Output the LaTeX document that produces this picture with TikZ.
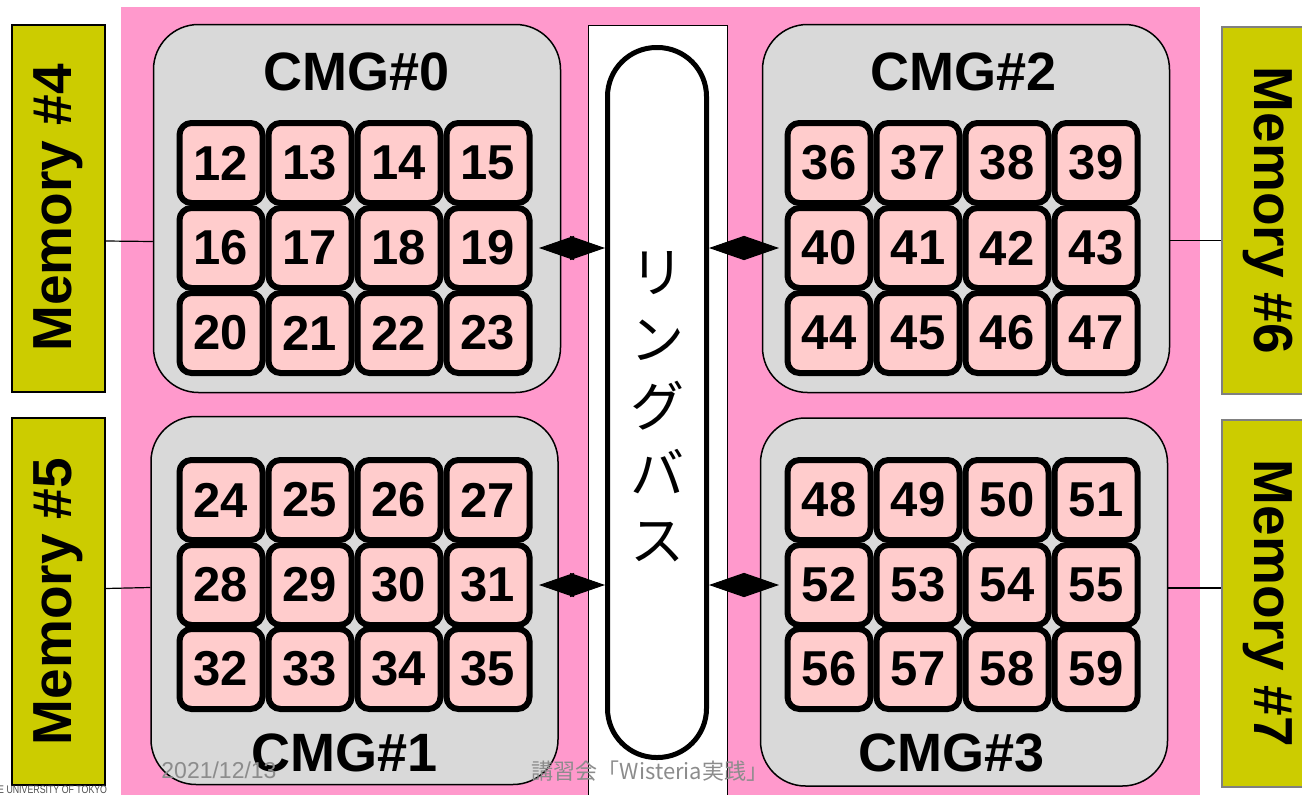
\documentclass[tikz,border=0pt]{standalone}
\usepackage{fontspec}
\setsansfont{Liberation Sans}
\newfontfamily\jpfont{Noto Sans CJK JP}
\usetikzlibrary{arrows.meta}
\usetikzlibrary{shapes}

\definecolor{boardPink}{HTML}{FF99CC}
\definecolor{cmgGray}{HTML}{D9D9D9}
\definecolor{corePink}{HTML}{FFCCCC}
\definecolor{memYellow}{HTML}{CCCC00}
\definecolor{footGray}{HTML}{8C8C8C}

\begin{document}
\begin{tikzpicture}[x = 1pt, y = -1pt, font=\sffamily]
	\tikzstyle{coreStyle}=[shape = rectangle, rounded corners = 12pt, minimum width = 83pt, minimum height = 80pt, inner sep = 0pt, line width = 6pt, draw, fill = corePink, font = \sffamily\bfseries\fontsize{49}{49}\selectfont]
	\tikzstyle{cmgStyle}=[shape = rectangle, rounded corners = 45pt, minimum width = 407pt, minimum height = 368pt, line width = 1.5pt, draw, fill = cmgGray]
	\tikzstyle{cmgLabelStyle}=[inner sep = 0pt, font = \sffamily\bfseries\fontsize{54}{54}\selectfont]
	\tikzstyle{memoryStyle}=[shape = rectangle, minimum width = 367pt, minimum height = 93pt, inner sep = 0pt, line width = 2pt, draw, fill = memYellow, font = \sffamily\bfseries\fontsize{55}{55}\selectfont]
	\tikzstyle{busStyle}=[shape = rectangle, rounded corners = 49pt, minimum width = 99pt, minimum height = 710pt, line width = 5pt, draw, fill = white]
	\tikzstyle{linkStyle}=[{Triangle[length = 35pt, width = 24pt]}-{Triangle[length = 35pt, width = 24pt]}, line width = 1pt]
	\tikzstyle{wireStyle}=[line width = 1.2pt]
	\tikzstyle{footStyle}=[inner sep = 0pt, text = footGray, font = \sffamily\fontsize{23}{23}\selectfont]
	\useasboundingbox (0,0) rectangle (1302,795);
	% board and ring bus frame
	\fill[boardPink] (121,7) rectangle (1200,800);
	\draw[fill = white, line width = 1pt] (588,25) rectangle (727,800);
	% memories
	\node[memoryStyle, rotate = 90] (mem4) at (58,208) {Memory \#4};
	\node[memoryStyle, rotate = 90] (mem5) at (58,601.5) {Memory \#5};
	\node[memoryStyle, rotate = -90, draw = gray] (mem6) at (1268,210.5) {Memory \#6};
	\node[memoryStyle, rotate = -90, draw = gray] (mem7) at (1268,603.5) {Memory \#7};
	% CMGs
	\node[cmgStyle] (cmg0) at (357,208.5) {};
	\node[cmgStyle] (cmg1) at (354.5,600.5) {};
	\node[cmgStyle] (cmg2) at (966,208.5) {};
	\node[cmgStyle] (cmg3) at (964,602) {};
	\node[cmgLabelStyle] (lab0) at (357,72) {CMG\#0};
	\node[cmgLabelStyle] (lab1) at (345,753) {CMG\#1};
	\node[cmgLabelStyle] (lab2) at (964,72) {CMG\#2};
	\node[cmgLabelStyle] (lab3) at (952,753) {CMG\#3};
	% CMG#0
	\node[coreStyle] (c12) at (221,163) {12};
	\node[coreStyle] (c13) at (310,163) {13};
	\node[coreStyle] (c14) at (399,163) {14};
	\node[coreStyle] (c15) at (488,163) {15};
	\node[coreStyle] (c16) at (221,248) {16};
	\node[coreStyle] (c17) at (310,248) {17};
	\node[coreStyle] (c18) at (399,248) {18};
	\node[coreStyle] (c19) at (488,248) {19};
	\node[coreStyle] (c20) at (221,333) {20};
	\node[coreStyle] (c21) at (310,333) {21};
	\node[coreStyle] (c22) at (399,333) {22};
	\node[coreStyle] (c23) at (488,333) {23};
	% CMG#1
	\node[coreStyle] (c24) at (221,500) {24};
	\node[coreStyle] (c25) at (310,500) {25};
	\node[coreStyle] (c26) at (399,500) {26};
	\node[coreStyle] (c27) at (488,500) {27};
	\node[coreStyle] (c28) at (221,585) {28};
	\node[coreStyle] (c29) at (310,585) {29};
	\node[coreStyle] (c30) at (399,585) {30};
	\node[coreStyle] (c31) at (488,585) {31};
	\node[coreStyle] (c32) at (221,669) {32};
	\node[coreStyle] (c33) at (310,669) {33};
	\node[coreStyle] (c34) at (399,669) {34};
	\node[coreStyle] (c35) at (488,669) {35};
	% CMG#2
	\node[coreStyle] (c36) at (829,163) {36};
	\node[coreStyle] (c37) at (918,163) {37};
	\node[coreStyle] (c38) at (1007,163) {38};
	\node[coreStyle] (c39) at (1096,163) {39};
	\node[coreStyle] (c40) at (829,248) {40};
	\node[coreStyle] (c41) at (918,248) {41};
	\node[coreStyle] (c42) at (1007,248) {42};
	\node[coreStyle] (c43) at (1096,248) {43};
	\node[coreStyle] (c44) at (829,333) {44};
	\node[coreStyle] (c45) at (918,333) {45};
	\node[coreStyle] (c46) at (1007,333) {46};
	\node[coreStyle] (c47) at (1096,333) {47};
	% CMG#3
	\node[coreStyle] (c48) at (829,500) {48};
	\node[coreStyle] (c49) at (918,500) {49};
	\node[coreStyle] (c50) at (1007,500) {50};
	\node[coreStyle] (c51) at (1096,500) {51};
	\node[coreStyle] (c52) at (829,585) {52};
	\node[coreStyle] (c53) at (918,585) {53};
	\node[coreStyle] (c54) at (1007,585) {54};
	\node[coreStyle] (c55) at (1096,585) {55};
	\node[coreStyle] (c56) at (829,669) {56};
	\node[coreStyle] (c57) at (918,669) {57};
	\node[coreStyle] (c58) at (1007,669) {58};
	\node[coreStyle] (c59) at (1096,669) {59};
	% ring bus
	\node[busStyle] (bus) at (657,402.5) {};
	\node[align = center, inner sep = 0pt, font = \jpfont\fontsize{54}{67}\selectfont] (busText) at (657,407) {リ\\ン\\グ\\バ\\ス};
	% links
	\draw[linkStyle] ([xshift = 6.5pt]c19.east) -- (c19.east -| bus.west);
	\draw[linkStyle] (c40.west -| bus.east) -- ([xshift = -5.5pt]c40.west);
	\draw[linkStyle] ([xshift = 6.5pt]c31.east) -- (c31.east -| bus.west);
	\draw[linkStyle] (c52.west -| bus.east) -- ([xshift = -5.5pt]c52.west);
	\draw[wireStyle] ([yshift = -33pt]mem4.south) -- ([yshift = -33pt]cmg0.west);
	\draw[wireStyle] ([yshift = 13pt]mem5.south) -- ([yshift = 13pt]cmg1.west);
	\draw[wireStyle] ([yshift = -32pt]cmg2.east) -- ([yshift = -32pt]cmg2.east -| mem6.south);
	\draw[wireStyle] ([yshift = 14pt]cmg3.east) -- ([yshift = 14pt]cmg3.east -| mem7.south);
	% footer
	\node[footStyle] (date) at (219,770) {2021/12/13};
	\node[footStyle, font = \jpfont\fontsize{22}{22}\selectfont] (title) at (650,771) {講習会「Wisteria実践」};
	\node[inner sep = 0pt, anchor = west, text = black!70, font = \sffamily\fontsize{11}{11}\selectfont] (univ) at (-2,790) {\scalebox{0.8}[1]{E UNIVERSITY OF TOKYO}};
\end{tikzpicture}
\end{document}
